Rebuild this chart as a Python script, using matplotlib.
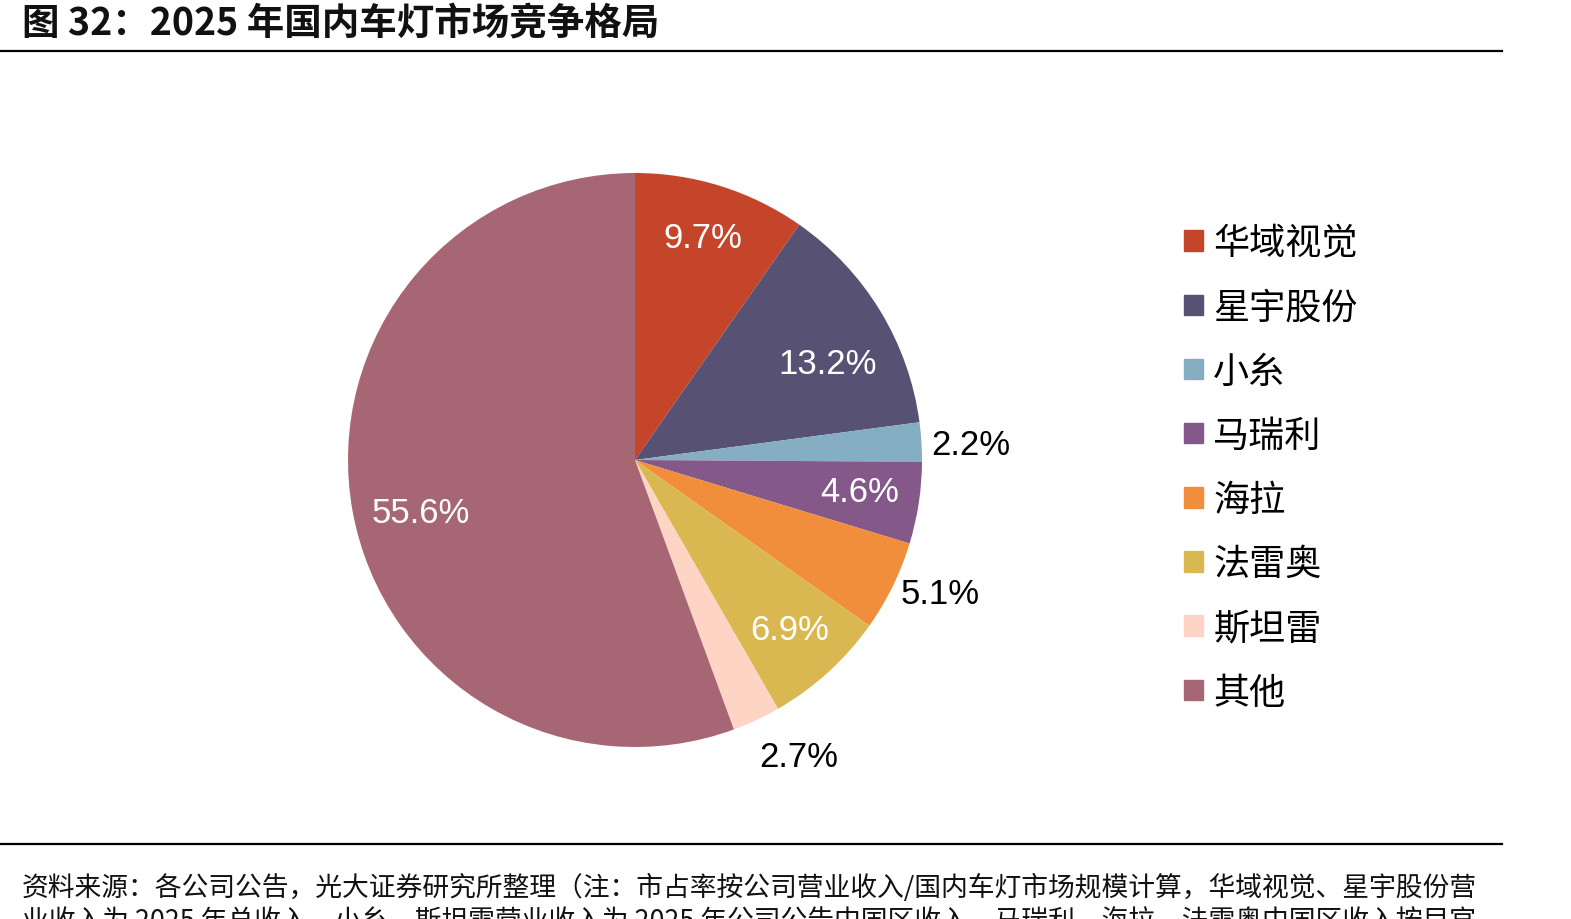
import matplotlib
matplotlib.use("Agg")
import matplotlib.pyplot as plt
import numpy as np

plt.rcParams['font.family'] = ['Noto Sans CJK SC', 'DejaVu Sans']

categories = ["华域视觉", "星宇股份", "小糸", "马瑞利", "海拉", "法雷奥", "斯坦雷", "其他"]
shares = [9.7, 13.2, 2.2, 4.6, 5.1, 6.9, 2.7, 55.6]
colors = ["#C4452A", "#575274", "#85AEC2", "#845889", "#F08E3C", "#D9B852", "#FED4C4", "#A76674"]

title = "图 32：2025 年国内车灯市场竞争格局"
source_line1 = "资料来源：各公司公告，光大证券研究所整理（注：市占率按公司营业收入/国内车灯市场规模计算，华域视觉、星宇股份营"
source_line2 = "业收入为 2025 年总收入，小糸、斯坦雷营业收入为 2025 年公司公告中国区收入，马瑞利、海拉、法雷奥中国区收入按目官"

# label style: (radial factor, angle tweak deg, inside?)
label_r = [0.81, 0.75, 1.17, 0.79, 1.16, 0.80, 1.18, 0.77]
label_dtheta = [0.5, -4.7, -1.0, 0.7, 2.5, 0.0, 3.8, 3.6]
label_inside = [True, True, False, True, False, True, False, True]

W, H = 1571, 920
fig = plt.figure(figsize=(W / 100, H / 100), dpi=100)

cx, cy, R = 635, 461, 287
ax = fig.add_axes([(cx - R) / W, (H - cy - R) / H, 2 * R / W, 2 * R / H])
wedges, _ = ax.pie(shares, colors=colors, startangle=90, counterclock=False,
                   radius=1.0, wedgeprops=dict(linewidth=0))
ax.set_xlim(-1, 1)
ax.set_ylim(-1, 1)
ax.set_aspect('equal')
ax.axis('off')

for w, val, rf, dt, ins in zip(wedges, shares, label_r, label_dtheta, label_inside):
    th = np.deg2rad((w.theta1 + w.theta2) / 2 + dt)
    ax.text(rf * np.cos(th), rf * np.sin(th), f"{val:.1f}%",
            ha='center', va='center', fontsize=25,
            family=['Liberation Sans', 'DejaVu Sans'],
            color='white' if ins else 'black', clip_on=False)

# Legend
handles = [plt.Rectangle((0, 0), 1, 1, color=c) for c in colors]
fig.legend(handles, categories, loc='upper left',
           bbox_to_anchor=(1170 / W, 1 - 212 / H), frameon=False,
           prop={'family': ['Noto Sans CJK SC'], 'size': 26},
           handlelength=0.5, handleheight=0.5, handletextpad=0.3,
           labelspacing=0.78, borderaxespad=0)

# Title and rules
fig.text(22 / W, 1 - 24 / H, title, ha='left', va='center', fontsize=27,
         fontweight='bold', color='#111111')
fig.add_artist(plt.Line2D([0, 1502 / W], [1 - 52 / H, 1 - 52 / H], color='black', lw=1.6))
fig.add_artist(plt.Line2D([0, 1502 / W], [1 - 845 / H, 1 - 845 / H], color='black', lw=1.6))

fig.text(22 / W, 1 - 888 / H, source_line1, ha='left', va='center', fontsize=19.3, color='#111111')
fig.text(22 / W, 1 - 922 / H, source_line2, ha='left', va='center', fontsize=19.3, color='#111111')

fig.savefig("out.png", dpi=100, facecolor='white')
